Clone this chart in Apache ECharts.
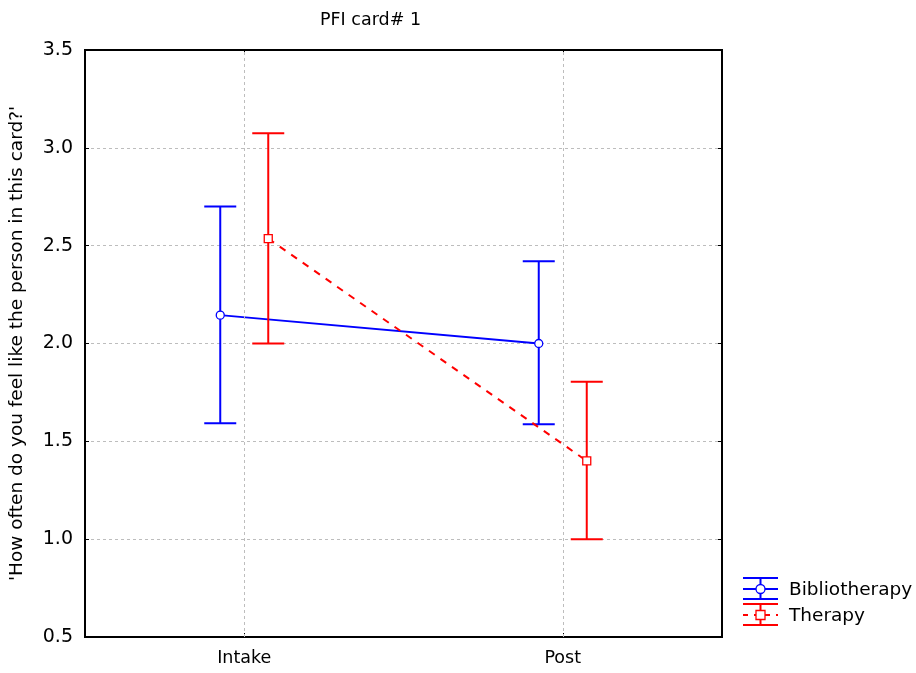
<!DOCTYPE html>
<html>
<head>
<meta charset="utf-8">
<script src="https://cdn.jsdelivr.net/npm/echarts@6/dist/echarts.min.js"></script>
<style>
  html, body { margin: 0; padding: 0; background: #fff; }
  #chart { width: 916px; height: 673px; }
</style>
</head>
<body>
<div id="chart"></div>
<script>
// Group means with confidence interval bounds per time point
const categories = ['Intake', 'Post'];
const yTicks = [0.5, 1.0, 1.5, 2.0, 2.5, 3.0, 3.5];

const biblioMean = [2.145, 2.00];
const biblioLow  = [1.592, 1.587];
const biblioHigh = [2.70, 2.42];

const therapyMean = [2.536, 1.40];
const therapyLow  = [2.00, 1.00];
const therapyHigh = [3.074, 1.805];

const FONT = 'DejaVu Sans';
const BLUE = '#0000ff';
const RED = '#ff0000';

function groupData(mean, low, high) {
  return categories.map((c, i) => [i, mean[i], low[i], high[i]]);
}

// Error-bar group: connecting line to next point, whiskers, then marker
function makeRender(mean, color, offset, dashed, marker) {
  return function (params, api) {
    const i = api.value(0);
    const p = api.coord([i, api.value(1)]);
    const lo = api.coord([i, api.value(2)]);
    const hi = api.coord([i, api.value(3)]);
    const x = p[0] + offset;
    const cap = 16;
    const children = [];
    if (i + 1 < mean.length) {
      const q = api.coord([i + 1, mean[i + 1]]);
      children.push({
        type: 'line',
        shape: { x1: x, y1: p[1], x2: q[0] + offset, y2: q[1] },
        style: { stroke: color, lineWidth: 2, lineDash: dashed ? [7, 7] : null }
      });
    }
    children.push({
      type: 'line',
      shape: { x1: x, y1: hi[1], x2: x, y2: lo[1] },
      style: { stroke: color, lineWidth: 2 }
    });
    children.push({
      type: 'line',
      shape: { x1: x - cap, y1: hi[1], x2: x + cap, y2: hi[1] },
      style: { stroke: color, lineWidth: 2 }
    });
    children.push({
      type: 'line',
      shape: { x1: x - cap, y1: lo[1], x2: x + cap, y2: lo[1] },
      style: { stroke: color, lineWidth: 2 }
    });
    if (marker === 'circle') {
      children.push({
        type: 'circle',
        shape: { cx: x, cy: p[1], r: 4 },
        style: { fill: '#fff', stroke: color, lineWidth: 1.3 }
      });
    } else {
      children.push({
        type: 'rect',
        shape: { x: x - 4, y: p[1] - 4, width: 8, height: 8 },
        style: { fill: '#fff', stroke: color, lineWidth: 1.3 }
      });
    }
    return { type: 'group', children: children };
  };
}

// Legend key: whisker glyph with marker
function legendKey(y, color, marker, dashed) {
  const x0 = 743, x1 = 778, xc = 760.5;
  const kids = [
    { type: 'line', shape: { x1: x0, y1: y - 11, x2: x1, y2: y - 11 }, style: { stroke: color, lineWidth: 2 } },
    { type: 'line', shape: { x1: x0, y1: y + 10, x2: x1, y2: y + 10 }, style: { stroke: color, lineWidth: 2 } },
    { type: 'line', shape: { x1: xc, y1: y - 11, x2: xc, y2: y + 10 }, style: { stroke: color, lineWidth: 2 } },
    { type: 'line', shape: { x1: x0, y1: y, x2: x1, y2: y }, style: { stroke: color, lineWidth: 2, lineDash: dashed ? [5, 6] : null } }
  ];
  if (marker === 'circle') {
    kids.push({ type: 'circle', shape: { cx: xc, cy: y, r: 4.5 }, style: { fill: '#fff', stroke: color, lineWidth: 1.3 } });
  } else {
    kids.push({ type: 'rect', shape: { x: xc - 4.5, y: y - 4.5, width: 9, height: 9 }, style: { fill: '#fff', stroke: color, lineWidth: 1.3 } });
  }
  return kids;
}

const chart = echarts.init(document.getElementById('chart'), null, { renderer: 'canvas' });

chart.setOption({
  animation: false,
  backgroundColor: '#fff',
  title: {
    text: 'PFI card# 1',
    left: 315,
    top: 6,
    textStyle: { fontFamily: FONT, fontSize: 17.5, fontWeight: 'normal', color: '#000' }
  },
  grid: {
    left: 85, top: 50, right: 194, bottom: 36,
    show: true, borderColor: '#000', borderWidth: 2, backgroundColor: 'transparent'
  },
  xAxis: [{
    type: 'category',
    data: categories,
    position: 'bottom',
    axisLine: { lineStyle: { color: '#000', width: 2 } },
    axisTick: { show: true, inside: true, alignWithLabel: true, length: 4, lineStyle: { color: '#000' } },
    axisLabel: { fontFamily: FONT, fontSize: 17.5, color: '#000', margin: 12 },
    splitLine: { show: false }
  }, {
    type: 'category',
    data: categories,
    position: 'top',
    axisLine: { show: false },
    axisTick: { show: true, inside: true, alignWithLabel: true, length: 4, lineStyle: { color: '#000' } },
    axisLabel: { show: false },
    splitLine: { show: false }
  }],
  yAxis: [{
    type: 'value',
    min: yTicks[0],
    max: yTicks[yTicks.length - 1],
    interval: 0.5,
    name: "'How often do you feel like the person in this card?'",
    nameLocation: 'middle',
    nameGap: 58,
    nameTextStyle: { fontFamily: FONT, fontSize: 18.5, color: '#000' },
    axisLine: { lineStyle: { color: '#000', width: 2 } },
    axisTick: { show: true, inside: true, length: 4, lineStyle: { color: '#000' } },
    axisLabel: { fontFamily: FONT, fontSize: 19, color: '#000', margin: 12, formatter: v => v.toFixed(1) },
    splitLine: { show: true, showMinLine: false, showMaxLine: false, lineStyle: { color: '#bdbdbd', type: [3, 3], width: 1 } }
  }, {
    type: 'value',
    min: yTicks[0],
    max: yTicks[yTicks.length - 1],
    interval: 0.5,
    position: 'right',
    axisLine: { show: false },
    axisTick: { show: true, inside: true, length: 4, lineStyle: { color: '#000' } },
    axisLabel: { show: false },
    splitLine: { show: false }
  }],
  series: [{
    // vertical grid lines through category centres
    type: 'line',
    data: [],
    z: 1,
    markLine: {
      silent: true,
      symbol: 'none',
      label: { show: false },
      lineStyle: { color: '#bdbdbd', type: [3, 3], width: 1 },
      data: categories.map(c => ({ xAxis: c }))
    }
  }, {
    name: 'Bibliotherapy',
    type: 'custom',
    z: 3,
    data: groupData(biblioMean, biblioLow, biblioHigh),
    renderItem: makeRender(biblioMean, BLUE, -24, false, 'circle')
  }, {
    name: 'Therapy',
    type: 'custom',
    z: 4,
    data: groupData(therapyMean, therapyLow, therapyHigh),
    renderItem: makeRender(therapyMean, RED, 24, true, 'square')
  }],
  graphic: [{
    type: 'group',
    children: legendKey(589, BLUE, 'circle', false).concat(legendKey(615, RED, 'square', true)).concat([
      { type: 'text', x: 789, y: 590, style: { text: 'Bibliotherapy', fontFamily: FONT, fontSize: 18.5, fill: '#000', verticalAlign: 'middle' } },
      { type: 'text', x: 789, y: 616, style: { text: 'Therapy', fontFamily: FONT, fontSize: 18.5, fill: '#000', verticalAlign: 'middle' } }
    ])
  }]
});
</script>
</body>
</html>
